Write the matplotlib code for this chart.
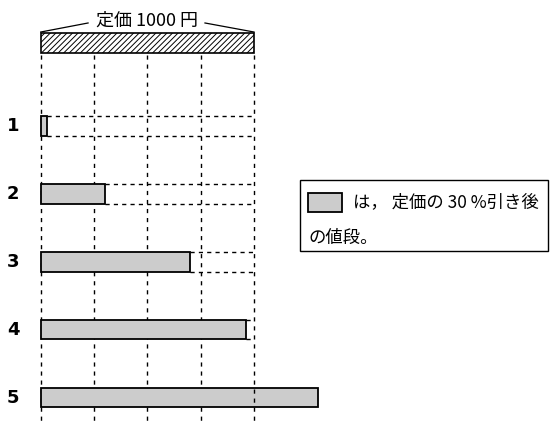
import matplotlib.pyplot as plt
from matplotlib.patches import Rectangle

plt.rcParams['font.family'] = ['Noto Sans CJK JP', 'DejaVu Sans']
plt.rcParams['hatch.linewidth'] = 0.7

# data (yen)
full_price = 1000
labels = ['1', '2', '3', '4', '5']
prices = [30, 300, 700, 960, 1300]
ticks = [0, 250, 500, 750, 1000]

gray = '#cccccc'
bar_h = 0.28

fig = plt.figure(figsize=(5.57, 4.37), dpi=100)
ax = fig.add_axes([0, 0, 1, 1])
ax.set_xlim(-190.8, 2420)
ax.set_ylim(5.574, -0.853)
ax.axis('off')

# vertical dashed guide lines
for t in ticks:
    z = 3 if t == full_price else 0
    ax.plot([t, t], [-0.044, 5.40], color='black', lw=1,
            linestyle=(0, (3, 3.5)), zorder=z)

# top bar: full price, hatched
ax.barh(-0.22, full_price, height=0.29, left=0, color='white',
        edgecolor='black', hatch='//////', lw=1.2, zorder=2)
ax.plot([0, 222], [-0.382, -0.515], color='black', lw=0.9)
ax.plot([full_price - 230, full_price], [-0.515, -0.382], color='black', lw=0.9)
ax.text(full_price / 2, -0.55, '定価 1000 円', ha='center', va='center',
        fontsize=13)

# answer bars
for i, (lab, p) in enumerate(zip(labels, prices)):
    y = i + 1
    ax.barh(y, p, height=bar_h, left=0, color=gray, edgecolor='black',
            lw=1.3, zorder=2)
    if p < full_price:
        ax.plot([p, full_price], [y - bar_h / 2, y - bar_h / 2], color='black',
                lw=1, linestyle=(0, (3, 3)), zorder=2)
        ax.plot([p, full_price], [y + bar_h / 2, y + bar_h / 2], color='black',
                lw=1, linestyle=(0, (3, 3)), zorder=2)
    ax.text(-130, y, lab, ha='center', va='center', fontsize=13,
            fontweight='bold', family=['DejaVu Sans'])

# legend box
fig.patches.append(Rectangle((300 / 557, 1 - 251 / 437), 248 / 557, 71 / 437,
                             transform=fig.transFigure, facecolor='white',
                             edgecolor='black', lw=1))
fig.patches.append(Rectangle((308 / 557, 1 - 212 / 437), 34 / 557, 19 / 437,
                             transform=fig.transFigure, facecolor=gray,
                             edgecolor='black', lw=1.3))
fig.text(353 / 557, 1 - 202 / 437, 'は， 定価の 30 %引き後', ha='left',
         va='center', fontsize=12.5)
fig.text(308 / 557, 1 - 238 / 437, 'の値段。', ha='left', va='center',
         fontsize=12.5)

fig.savefig('out.png', dpi=100)
